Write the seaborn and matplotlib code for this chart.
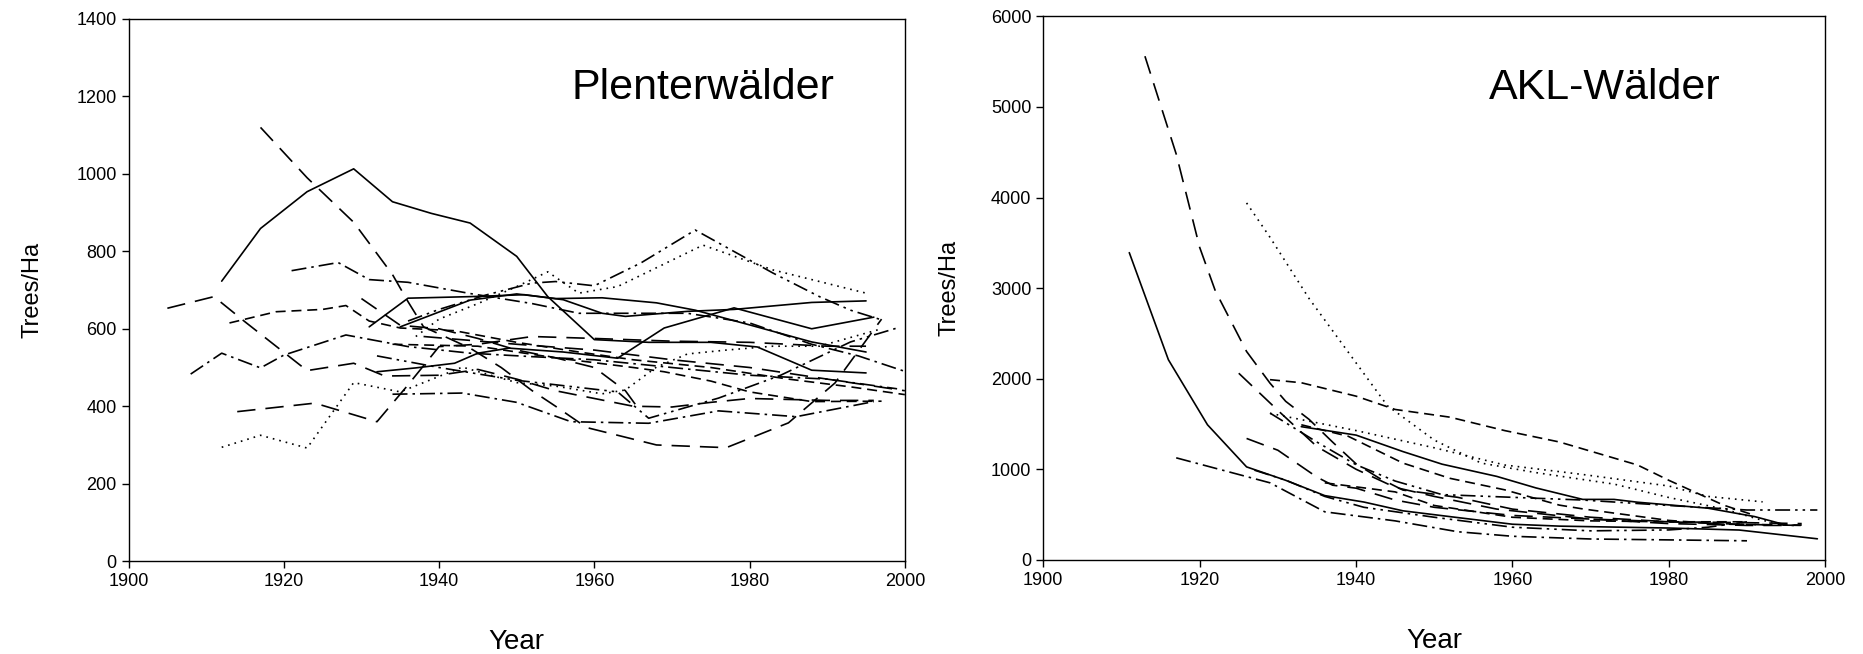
"""Stem density (trees/ha) over time in Plenterwald and AKL stands."""

import matplotlib

matplotlib.use("Agg")
import matplotlib.pyplot as plt
import seaborn as sns

# Line styles used in the source figure (black lines only)
SOLID = "-"
LONG_DASH = (0, (11, 6))
DASH = (0, (6, 3.5))
DASH_DOT = (0, (9, 3, 1.5, 3))
DASH_DOT_DOT = (0, (9, 3, 1.5, 3, 1.5, 3))
DOTTED = (0, (1, 3))

# ---- Plenterwälder (left panel) ----
pw_a_year = [1912, 1917, 1923, 1929, 1934, 1939, 1944, 1950, 1954, 1960, 1967, 1975, 1981, 1988, 1995]
pw_a_trees = [723, 859, 954, 1013, 928, 898, 873, 787, 683, 572, 565, 565, 553, 493, 486]

pw_b_year = [1917, 1923, 1929, 1934, 1936, 1938, 1944, 1948, 1952, 1955, 1959, 1968, 1977, 1985, 1991, 1997]
pw_b_trees = [1120, 990, 875, 740, 670, 605, 550, 500, 440, 400, 345, 300, 293, 357, 460, 625]

pw_c_year = [1931, 1936, 1944, 1951, 1956, 1961, 1964, 1972, 1978, 1988, 1995]
pw_c_trees = [605, 679, 683, 688, 675, 640, 632, 645, 650, 668, 672]

pw_d_year = [1935, 1944, 1950, 1955, 1961, 1968, 1973, 1980, 1988, 1995]
pw_d_trees = [605, 674, 690, 678, 680, 667, 648, 610, 566, 540]

pw_e_year = [1932, 1937, 1942, 1945, 1949, 1956, 1963, 1969, 1978, 1988, 1996]
pw_e_trees = [489, 499, 511, 537, 550, 540, 524, 602, 654, 600, 630]

pw_f_year = [1936, 1940, 1946, 1952, 1955, 1960, 1966, 1973, 1983, 1989, 1993, 1997]
pw_f_trees = [620, 650, 687, 718, 722, 711, 770, 855, 744, 683, 648, 623]

pw_g_year = [1937, 1940, 1945, 1950, 1954, 1958, 1963, 1974, 1983, 1995]
pw_g_trees = [580, 625, 665, 709, 747, 692, 709, 816, 752, 692]

pw_h_year = [1921, 1927, 1931, 1936, 1944, 1952, 1958, 1965, 1972, 1980, 1988, 1994, 2000]
pw_h_trees = [750, 771, 727, 720, 691, 665, 640, 640, 640, 615, 560, 530, 490]

pw_i_year = [1905, 1911, 1915, 1919, 1923, 1929, 1933, 1940, 1945, 1950, 1955, 1960, 1965, 1970, 1975, 1980, 1990, 1996]
pw_i_trees = [653, 683, 618, 555, 492, 511, 478, 480, 495, 470, 440, 420, 400, 398, 410, 420, 415, 415]

pw_j_year = [1908, 1912, 1917, 1920, 1928, 1936, 1944, 1952, 1960, 1970, 1980, 1990, 1999]
pw_j_trees = [483, 537, 499, 532, 584, 554, 537, 528, 520, 500, 480, 470, 445]

pw_k_year = [1913, 1919, 1925, 1928, 1931, 1935, 1942, 1950, 1958, 1965, 1975, 1985, 1993, 2000]
pw_k_trees = [615, 644, 650, 660, 620, 602, 595, 565, 540, 520, 500, 470, 450, 430]

pw_l_year = [1912, 1917, 1923, 1929, 1935, 1943, 1950, 1955, 1961, 1964, 1968, 1972, 1977, 1983, 1989, 1997]
pw_l_trees = [294, 325, 292, 461, 437, 501, 461, 452, 432, 442, 501, 535, 545, 555, 555, 600]

pw_m_year = [1914, 1924, 1927, 1932, 1936, 1940, 1945, 1952, 1960, 1970, 1980, 1990, 1995]
pw_m_trees = [386, 408, 390, 360, 455, 554, 560, 580, 575, 568, 565, 555, 555]

pw_o_year = [1934, 1943, 1950, 1957, 1967, 1976, 1986, 1996]
pw_o_trees = [431, 434, 410, 360, 356, 388, 373, 412]

pw_q_year = [1932, 1940, 1950, 1963, 1967, 1976, 1984, 1993, 1999]
pw_q_trees = [530, 500, 467, 437, 369, 421, 480, 566, 602]

pw_s_year = [1930, 1935, 1940, 1945, 1950, 1955, 1960, 1962, 1964, 1966]
pw_s_trees = [678, 609, 600, 575, 545, 525, 500, 470, 440, 385]

pw_u_year = [1934, 1945, 1955, 1965, 1969, 1975, 1980, 1988, 1997]
pw_u_trees = [560, 555, 525, 500, 489, 465, 437, 412, 413]

pw_v_year = [1938, 1950, 1960, 1970, 1980, 1990, 2000]
pw_v_trees = [580, 560, 545, 520, 500, 470, 440]

# ---- AKL-Wälder (right panel) ----
akl_1_year = [1911, 1916, 1921, 1926, 1931, 1936, 1941, 1946, 1952, 1960, 1966, 1980, 1989, 1999]
akl_1_trees = [3391, 2209, 1491, 1026, 878, 709, 638, 541, 477, 393, 372, 351, 329, 232]

akl_2_year = [1913, 1917, 1920, 1922, 1926, 1929, 1931, 1934, 1937, 1940, 1943, 1946, 1953, 1960, 1970, 1980, 1990, 1997]
akl_2_trees = [5560, 4480, 3450, 2970, 2300, 1950, 1750, 1550, 1300, 1060, 900, 770, 690, 560, 470, 420, 390, 380]

akl_3_year = [1926, 1929, 1934, 1939, 1944, 1950, 1956, 1963, 1973, 1980, 1987, 1992, 1995]
akl_3_trees = [3940, 3560, 2884, 2293, 1702, 1322, 1068, 963, 836, 688, 562, 435, 390]

akl_4_year = [1929, 1940, 1950, 1959, 1969, 1980, 1985, 1992]
akl_4_trees = [1617, 1427, 1237, 1047, 942, 815, 700, 640]

akl_5_year = [1929, 1933, 1940, 1945, 1952, 1959, 1966, 1976, 1980, 1987, 1991]
akl_5_trees = [1989, 1955, 1807, 1660, 1575, 1427, 1301, 1047, 878, 604, 490]

akl_6_year = [1933, 1940, 1946, 1951, 1958, 1963, 1969, 1973, 1976, 1985, 1991, 1995]
akl_6_trees = [1470, 1377, 1195, 1056, 921, 794, 667, 667, 636, 570, 477, 384]

akl_7_year = [1929, 1935, 1940, 1945, 1951, 1960, 1969, 1980, 1990, 1999]
akl_7_trees = [1620, 1300, 1050, 870, 720, 690, 660, 600, 550, 550]

akl_8_year = [1917, 1929, 1936, 1945, 1953, 1960, 1970, 1980, 1990]
akl_8_trees = [1126, 850, 530, 430, 310, 260, 230, 220, 210]

akl_9_year = [1925, 1930, 1935, 1940, 1945, 1950, 1958, 1970, 1980, 1990, 1996]
akl_9_trees = [2060, 1650, 1250, 1000, 800, 700, 560, 450, 400, 380, 380]

akl_10_year = [1926, 1930, 1935, 1937, 1940, 1945, 1950, 1960, 1970, 1980, 1990, 1997]
akl_10_trees = [1340, 1210, 913, 824, 791, 660, 580, 490, 450, 420, 410, 400]

akl_11_year = [1933, 1939, 1946, 1952, 1959, 1966, 1969, 1980, 1987, 1997]
akl_11_trees = [1491, 1364, 1068, 900, 773, 604, 562, 435, 393, 384]

akl_13_year = [1927, 1931, 1936, 1941, 1950, 1960, 1970, 1980, 1985, 1990]
akl_13_trees = [990, 880, 700, 580, 470, 360, 320, 330, 360, 420]

akl_14_year = [1936, 1945, 1950, 1960, 1970, 1980, 1990]
akl_14_trees = [850, 750, 600, 470, 430, 420, 420]

PLENTER_LINES = [
    (pw_a_year, pw_a_trees, SOLID),
    (pw_b_year, pw_b_trees, LONG_DASH),
    (pw_c_year, pw_c_trees, SOLID),
    (pw_d_year, pw_d_trees, SOLID),
    (pw_e_year, pw_e_trees, SOLID),
    (pw_f_year, pw_f_trees, DASH_DOT_DOT),
    (pw_g_year, pw_g_trees, DOTTED),
    (pw_h_year, pw_h_trees, DASH_DOT),
    (pw_i_year, pw_i_trees, LONG_DASH),
    (pw_j_year, pw_j_trees, DASH_DOT),
    (pw_k_year, pw_k_trees, DASH),
    (pw_l_year, pw_l_trees, DOTTED),
    (pw_m_year, pw_m_trees, LONG_DASH),
    (pw_o_year, pw_o_trees, DASH_DOT),
    (pw_q_year, pw_q_trees, DASH_DOT_DOT),
    (pw_s_year, pw_s_trees, LONG_DASH),
    (pw_u_year, pw_u_trees, DASH),
    (pw_v_year, pw_v_trees, LONG_DASH),
]

AKL_LINES = [
    (akl_1_year, akl_1_trees, SOLID),
    (akl_2_year, akl_2_trees, LONG_DASH),
    (akl_3_year, akl_3_trees, DOTTED),
    (akl_4_year, akl_4_trees, DOTTED),
    (akl_5_year, akl_5_trees, DASH),
    (akl_6_year, akl_6_trees, SOLID),
    (akl_7_year, akl_7_trees, DASH_DOT_DOT),
    (akl_8_year, akl_8_trees, DASH_DOT),
    (akl_9_year, akl_9_trees, LONG_DASH),
    (akl_10_year, akl_10_trees, LONG_DASH),
    (akl_11_year, akl_11_trees, DASH),
    (akl_13_year, akl_13_trees, DASH_DOT_DOT),
    (akl_14_year, akl_14_trees, DASH),
]


def draw_panel(ax, lines, ymax, ystep, title, title_y, ylabel_pad):
    for years, trees, style in lines:
        sns.lineplot(
            x=years, y=trees, ax=ax, color="black", linewidth=1.2,
            linestyle=style, estimator=None, sort=False,
        )
    ax.set_xlim(1900, 2000)
    ax.set_ylim(0, ymax)
    ax.set_xticks(range(1900, 2001, 20))
    ax.set_yticks(range(0, ymax + 1, ystep))
    ax.tick_params(direction="out", length=5, width=1, labelsize=13,
                   colors="black", top=False, right=False)
    for spine in ax.spines.values():
        spine.set_visible(True)
        spine.set_linewidth(1.0)
        spine.set_color("black")
    ax.set_xlabel("Year", fontsize=20, labelpad=28, color="black")
    ax.set_ylabel("Trees/Ha", fontsize=17, labelpad=ylabel_pad, color="black")
    ax.text(1957, title_y, title, fontsize=31, ha="left", va="center",
            color="black")


def main() -> None:
    sns.set_style("ticks")
    plt.rcParams["font.family"] = ["Liberation Sans", "DejaVu Sans"]

    fig = plt.figure(figsize=(18.63, 6.54), dpi=100)
    ax_left = fig.add_axes([0.0690, 0.142, 0.4167, 0.829])
    ax_right = fig.add_axes([0.5600, 0.144, 0.4197, 0.831])

    draw_panel(ax_left, PLENTER_LINES, 1400, 200, "Plenterwälder", 1222, 24)
    draw_panel(ax_right, AKL_LINES, 6000, 1000, "AKL-Wälder", 5212, 22)

    fig.savefig("out.png", dpi=100)
    plt.close(fig)


if __name__ == "__main__":
    main()
